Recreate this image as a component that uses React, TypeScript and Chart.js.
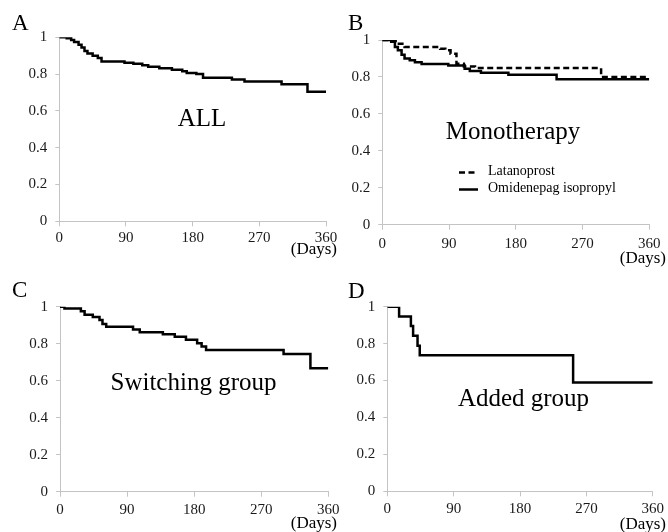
import React, { useEffect, useRef } from "react";
import { Chart, registerables } from "chart.js";

Chart.register(...registerables);

// ---- data ----
const xTicks = [0, 90, 180, 270, 360];
const yTicks = [0, 0.2, 0.4, 0.6, 0.8, 1];

const allDays = [0, 10, 16, 20, 26, 30, 34, 38, 45, 52, 57, 88, 100, 112, 120, 135, 152, 166, 172, 185, 194, 233, 250, 300, 335, 360];
const allSurv = [1, 0.995, 0.985, 0.975, 0.96, 0.945, 0.925, 0.912, 0.9, 0.888, 0.868, 0.862, 0.856, 0.848, 0.84, 0.832, 0.824, 0.815, 0.806, 0.8, 0.78, 0.77, 0.76, 0.745, 0.704, 0.704];

const latDays = [0, 18, 30, 78, 85, 92, 100, 110, 125, 295, 360];
const latSurv = [1, 0.98, 0.962, 0.953, 0.944, 0.926, 0.871, 0.857, 0.848, 0.8, 0.8];

const omiDays = [0, 12, 17, 21, 26, 30, 37, 44, 53, 89, 111, 118, 133, 170, 235, 360];
const omiSurv = [1, 0.99, 0.962, 0.944, 0.92, 0.9, 0.89, 0.879, 0.87, 0.862, 0.844, 0.832, 0.823, 0.812, 0.787, 0.787];

const switchDays = [0, 6, 28, 33, 44, 53, 57, 62, 98, 107, 138, 154, 169, 184, 190, 196, 300, 336, 360];
const switchSurv = [1, 0.99, 0.975, 0.956, 0.945, 0.928, 0.907, 0.892, 0.877, 0.862, 0.851, 0.838, 0.822, 0.802, 0.785, 0.766, 0.744, 0.667, 0.667];

const addedDays = [0, 16, 32, 35, 41, 44, 252, 360];
const addedSurv = [1, 0.947, 0.895, 0.842, 0.789, 0.737, 0.589, 0.589];

const panelLetters = ["A", "B", "C", "D"];
const panelTitles = ["ALL", "Monotherapy", "Switching group", "Added group"];
const legendLabels = ["Latanoprost", "Omidenepag isopropyl"];
const xUnit = "(Days)";

const FONT = '"Liberation Serif", "Times New Roman", serif';
const W = 668;
const H = 532;
const YW = 50;
const XH = 40;
const AXIS_COLOR = "#c4c4c4";

type Series = { days: number[]; surv: number[]; dash: number[] };

type Panel = {
  area: { l: number; t: number; r: number; b: number };
  series: Series[];
  letter: string;
  title: string;
  letterPos: [number, number];
  titlePos: [number, number];
  daysPos: [number, number];
  xPad: number;
  legend?: boolean;
};

const panels: Panel[] = [
  {
    area: { l: 59.3, t: 37.3, r: 326, b: 221.3 },
    series: [{ days: allDays, surv: allSurv, dash: [] }],
    letter: panelLetters[0],
    title: panelTitles[0],
    letterPos: [12, 29.5],
    titlePos: [202, 126],
    daysPos: [337, 250],
    xPad: 3,
  },
  {
    area: { l: 382.3, t: 40, r: 649.3, b: 224.7 },
    series: [
      { days: latDays, surv: latSurv, dash: [6, 3.5] },
      { days: omiDays, surv: omiSurv, dash: [] },
    ],
    letter: panelLetters[1],
    title: panelTitles[1],
    letterPos: [348, 29.5],
    titlePos: [513, 138.5],
    daysPos: [666, 259],
    xPad: 5,
    legend: true,
  },
  {
    area: { l: 60, t: 306.7, r: 328.3, b: 491.7 },
    series: [{ days: switchDays, surv: switchSurv, dash: [] }],
    letter: panelLetters[2],
    title: panelTitles[2],
    letterPos: [12, 297],
    titlePos: [193.5, 390],
    daysPos: [337, 523.5],
    xPad: 4,
  },
  {
    area: { l: 387.3, t: 306.7, r: 655, b: 491.3 },
    series: [{ days: addedDays, surv: addedSurv, dash: [] }],
    letter: panelLetters[3],
    title: panelTitles[3],
    letterPos: [348, 297.5],
    titlePos: [523.5, 406],
    daysPos: [666, 524.5],
    xPad: 4,
  },
];

function makeTextPlugin(p: Panel) {
  return {
    id: "panelText",
    afterDraw(chart: any) {
      const ctx = chart.ctx as CanvasRenderingContext2D;
      ctx.save();
      ctx.fillStyle = "#000";
      ctx.textBaseline = "alphabetic";
      ctx.textAlign = "left";
      ctx.font = `23px ${FONT}`;
      ctx.fillText(p.letter, p.letterPos[0], p.letterPos[1]);
      ctx.textAlign = "center";
      ctx.font = `25px ${FONT}`;
      ctx.fillText(p.title, p.titlePos[0], p.titlePos[1]);
      ctx.textAlign = "right";
      ctx.textBaseline = "middle";
      ctx.font = `17px ${FONT}`;
      ctx.fillText(xUnit, p.daysPos[0], p.daysPos[1]);
      if (p.legend) {
        const rows = [
          { y: 172.5, dash: p.series[0].dash, label: legendLabels[0] },
          { y: 189.5, dash: p.series[1].dash, label: legendLabels[1] },
        ];
        ctx.font = `14px ${FONT}`;
        ctx.textAlign = "left";
        ctx.textBaseline = "middle";
        ctx.strokeStyle = "#000";
        ctx.lineWidth = 2.5;
        for (const row of rows) {
          ctx.beginPath();
          ctx.setLineDash(row.dash);
          ctx.moveTo(459, row.y);
          ctx.lineTo(478, row.y);
          ctx.stroke();
          ctx.setLineDash([]);
          ctx.fillText(row.label, 488, row.y - 1);
        }
      }
      ctx.restore();
    },
  };
}

function PanelChart({ p }: { p: Panel }) {
  const ref = useRef<HTMLCanvasElement | null>(null);
  useEffect(() => {
    if (!ref.current) return;
    const a = p.area;
    const chart = new Chart(ref.current, {
      type: "line",
      data: {
        datasets: p.series.map((s) => ({
          data: s.days.map((d, i) => ({ x: d, y: s.surv[i] })),
          stepped: "before" as const,
          borderColor: "#000",
          borderWidth: 2.5,
          borderDash: s.dash,
          pointRadius: 0,
          fill: false,
          tension: 0,
        })),
      },
      options: {
        responsive: false,
        animation: false,
        events: [],
        layout: {
          padding: {
            left: a.l - YW,
            top: a.t,
            right: W - a.r,
            bottom: H - a.b - XH,
          },
        },
        plugins: {
          legend: { display: false },
          tooltip: { enabled: false },
        },
        scales: {
          x: {
            type: "linear",
            min: xTicks[0],
            max: xTicks[xTicks.length - 1],
            afterFit: (s: any) => {
              s.height = XH;
            },
            afterBuildTicks: (s: any) => {
              s.ticks = xTicks.map((v) => ({ value: v }));
            },
            ticks: {
              font: { family: FONT, size: 15 },
              color: "#1a1a1a",
              padding: p.xPad,
              maxRotation: 0,
            },
            grid: {
              drawOnChartArea: false,
              tickLength: 5,
              color: AXIS_COLOR,
            },
            border: { color: AXIS_COLOR, width: 1 },
          },
          y: {
            type: "linear",
            min: yTicks[0],
            max: yTicks[yTicks.length - 1],
            afterFit: (s: any) => {
              s.width = YW;
            },
            afterBuildTicks: (s: any) => {
              s.ticks = yTicks.map((v) => ({ value: v }));
            },
            ticks: {
              font: { family: FONT, size: 15 },
              color: "#1a1a1a",
              padding: 8,
              callback: (v: any) => String(Math.round(Number(v) * 10) / 10),
            },
            grid: {
              drawOnChartArea: false,
              tickLength: 4,
              color: AXIS_COLOR,
            },
            border: { color: AXIS_COLOR, width: 1 },
          },
        },
      } as any,
      plugins: [makeTextPlugin(p)],
    });
    return () => chart.destroy();
  }, [p]);
  return (
    <canvas
      ref={ref}
      width={W}
      height={H}
      style={{ position: "absolute", left: 0, top: 0, width: W, height: H }}
    />
  );
}

export default function App() {
  return (
    <div
      style={{
        position: "fixed",
        left: 0,
        top: 0,
        width: W,
        height: H,
        background: "#fff",
        overflow: "hidden",
      }}
    >
      {panels.map((p, i) => (
        <PanelChart key={i} p={p} />
      ))}
    </div>
  );
}
